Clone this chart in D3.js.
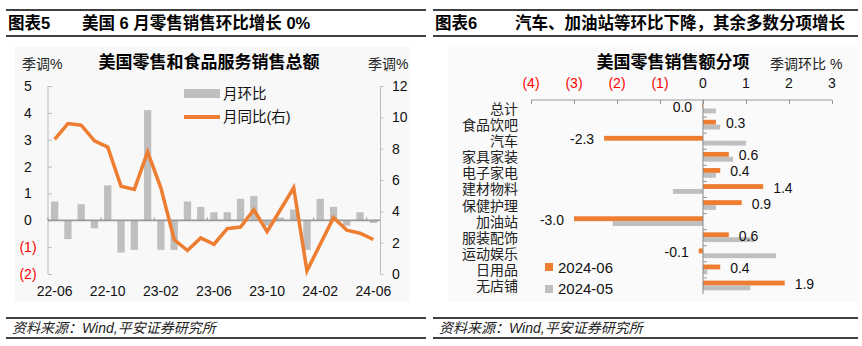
<!DOCTYPE html>
<html><head><meta charset="utf-8">
<script src="https://cdn.jsdelivr.net/npm/d3@7"></script>
<style>
body{margin:0;background:#fff;}
svg{display:block;font-family:"Liberation Sans","Noto Sans CJK SC",sans-serif;}
</style>
</head><body>
<svg id="c" width="862" height="346"></svg>
<script>
// ---------- Left chart data ----------
const months = ["22-06","22-07","22-08","22-09","22-10","22-11","22-12","23-01","23-02","23-03","23-04","23-05","23-06","23-07","23-08","23-09","23-10","23-11","23-12","24-01","24-02","24-03","24-04","24-05","24-06"];
const momValues = [0.7,-0.7,0.6,-0.3,1.3,-1.2,-1.1,4.1,-1.1,-1.1,0.7,0.5,0.3,0.3,0.8,0.9,-0.2,0.1,0.4,-1.1,0.8,0.5,-0.2,0.3,-0.1];
const yoyValues = [8.6,9.6,9.5,8.5,8.1,5.6,5.4,7.8,5.5,2.2,1.5,2.3,1.9,2.9,3.0,4.1,2.7,4.1,5.5,0.2,1.9,3.6,2.8,2.6,2.2];
const leftTicks = [-2,-1,0,1,2,3,4,5];
const rightTicks = [0,2,4,6,8,10,12];
const xLabelMonths = ["22-06","22-10","23-02","23-06","23-10","24-02","24-06"];

// ---------- Right chart data ----------
const categories = ["总计","食品饮吧","汽车","家具家装","电子家电","建材物料","保健护理","加油站","服装配饰","运动娱乐","日用品","无店铺"];
const jun2024 = [-0.02,0.3,-2.3,0.6,0.4,1.4,0.9,-3.0,0.6,-0.1,0.4,1.9];
const may2024 = [0.3,0.4,1.0,0.7,0.3,-0.7,0.3,-2.1,1.2,1.7,0.1,1.1];
const seriesNames = ["2024-06","2024-05"];
const topTicks = [-4,-3,-2,-1,0,1,2,3];

const ORANGE = "#ed7d31", GRAY = "#bfbfbf", RED = "#ff0000";
const svg = d3.select("#c");
const negFmt = v => v < 0 ? "(" + Math.abs(v) + ")" : String(v);

// ---------- Headers / footers ----------
function frame(x0, x1, num, title, numX, titleX) {
  [10, 36, 318, 338].forEach(y => {
    svg.append("line").attr("x1", x0).attr("x2", x1).attr("y1", y).attr("y2", y)
      .attr("stroke", "#000").attr("stroke-width", 1.3);
  });
  svg.append("text").attr("x", numX).attr("y", 29).attr("font-size", 16.5).attr("font-weight", "bold").text(num);
  svg.append("text").attr("x", titleX).attr("y", 29).attr("font-size", 16.5).attr("font-weight", "bold").text(title);
  svg.append("text").attr("x", numX + 4).attr("y", 333).attr("font-size", 14).attr("font-style", "italic")
    .attr("fill", "#222").text("资料来源：Wind,平安证券研究所");
}
frame(6, 426, "图表5", "美国 6 月零售销售环比增长 0%", 8, 82);
frame(433, 858, "图表6", "汽车、加油站等环比下降，其余多数分项增长", 435, 515);

// panels
svg.append("rect").attr("x", 15).attr("y", 47).attr("width", 395).attr("height", 255).attr("fill", "#f8f8f8");
svg.append("rect").attr("x", 448).attr("y", 47).attr("width", 410).attr("height", 255).attr("fill", "#fafafa");

// ---------- Left chart ----------
const L = svg.append("g");
const x = d3.scaleBand().domain(months).range([48, 380]).paddingInner(0.45).paddingOuter(0.225);
const yL = d3.scaleLinear().domain([-2, 5]).range([274, 86]);
const yR = d3.scaleLinear().domain([0, 12]).range([274, 86]);

L.append("text").attr("x", 209).attr("y", 68).attr("text-anchor", "middle").attr("font-size", 17)
  .attr("font-weight", "bold").text("美国零售和食品服务销售总额");
L.append("text").attr("x", 22).attr("y", 69).attr("font-size", 14).attr("fill", "#222").text("季调%");
L.append("text").attr("x", 368).attr("y", 69).attr("font-size", 14).attr("fill", "#222").text("季调%");

// left axis
const axL = L.append("g").attr("transform", "translate(48,0)")
  .call(d3.axisRight(yL).tickValues(leftTicks).tickSize(4).tickFormat(""));
axL.select(".domain").attr("stroke", "#bbb").attr("d", "M0,86V274");
axL.selectAll(".tick line").attr("stroke", "#bbb");
L.selectAll(".ylab").data(leftTicks).join("text").attr("class", "ylab")
  .attr("x", 28).attr("y", d => yL(d) + 5).attr("text-anchor", "middle").attr("font-size", 14)
  .attr("fill", d => d < 0 ? RED : "#111").text(negFmt);

// right axis
const axR = L.append("g").attr("transform", "translate(380.5,0)")
  .call(d3.axisRight(yR).tickValues(rightTicks).tickSize(3).tickFormat(""));
axR.select(".domain").attr("stroke", "#bbb").attr("d", "M0,86V274");
axR.selectAll(".tick line").attr("stroke", "#bbb");
L.selectAll(".rlab").data(rightTicks).join("text").attr("class", "rlab")
  .attr("x", 392).attr("y", d => yR(d) + 5).attr("font-size", 14).attr("fill", "#111").text(d => d);

// bars
L.selectAll(".bar").data(momValues).join("rect").attr("class", "bar")
  .attr("x", (d, i) => x(months[i])).attr("width", x.bandwidth())
  .attr("y", d => yL(Math.max(0, d))).attr("height", d => Math.abs(yL(d) - yL(0)))
  .attr("fill", GRAY);

// zero line
L.append("line").attr("x1", 48).attr("x2", 380).attr("y1", yL(0)).attr("y2", yL(0))
  .attr("stroke", "#999").attr("stroke-width", 1.8);
// small boundary ticks
const step = x.step();
L.selectAll(".xt").data(xLabelMonths).join("line").attr("class", "xt")
  .attr("x1", d => x(d) - x.paddingInner() * step / 2).attr("x2", d => x(d) - x.paddingInner() * step / 2)
  .attr("y1", yL(0)).attr("y2", yL(0) - 3).attr("stroke", "#999");
L.selectAll(".xlab").data(xLabelMonths).join("text").attr("class", "xlab")
  .attr("x", d => x(d) + x.bandwidth() / 2).attr("y", 296).attr("text-anchor", "middle")
  .attr("font-size", 14).attr("fill", "#111").text(d => d);

// line
const line = d3.line().x((d, i) => x(months[i]) + x.bandwidth() / 2).y(d => yR(d));
L.append("path").datum(yoyValues).attr("d", line).attr("fill", "none")
  .attr("stroke", ORANGE).attr("stroke-width", 3.5).attr("stroke-linejoin", "miter");

// legend
L.append("rect").attr("x", 184).attr("y", 89).attr("width", 36).attr("height", 9).attr("fill", GRAY);
L.append("text").attr("x", 223).attr("y", 99).attr("font-size", 14.5).attr("fill", "#111").text("月环比");
L.append("line").attr("x1", 184).attr("x2", 220).attr("y1", 117).attr("y2", 117).attr("stroke", ORANGE).attr("stroke-width", 4);
L.append("text").attr("x", 223).attr("y", 122).attr("font-size", 14.5).attr("fill", "#111").text("月同比(右)");

// ---------- Right chart ----------
const R = svg.append("g");
const xh = d3.scaleLinear().domain([-4, 3]).range([531, 832]);
const y0 = d3.scaleBand().domain(categories).range([101, 294]);
const y1 = d3.scaleBand().domain(seriesNames).range([2.7, 12.4]);

R.append("text").attr("x", 673).attr("y", 68).attr("text-anchor", "middle").attr("font-size", 17)
  .attr("font-weight", "bold").text("美国零售销售额分项");
R.append("text").attr("x", 770).attr("y", 69).attr("font-size", 14).attr("fill", "#222").text("季调环比 %");

const axT = R.append("g").attr("transform", "translate(0,100)")
  .call(d3.axisBottom(xh).tickValues(topTicks).tickSize(4).tickFormat(""));
axT.select(".domain").attr("stroke", "#999").attr("d", "M531,0H832");
axT.selectAll(".tick line").attr("stroke", "#999");
R.selectAll(".tlab").data(topTicks).join("text").attr("class", "tlab")
  .attr("x", d => xh(d)).attr("y", 88).attr("text-anchor", "middle").attr("font-size", 14)
  .attr("fill", d => d < 0 ? RED : "#111").text(negFmt);

// bars
const rows = categories.map((c, i) => ({c, jun: jun2024[i], may: may2024[i]}));
R.selectAll(".bj").data(rows).join("rect").attr("class", "bj")
  .attr("x", d => xh(Math.min(0, d.jun))).attr("width", d => Math.abs(xh(d.jun) - xh(0)))
  .attr("y", d => y0(d.c) + y1("2024-06")).attr("height", y1.bandwidth()).attr("fill", ORANGE);
R.selectAll(".bm").data(rows).join("rect").attr("class", "bm")
  .attr("x", d => xh(Math.min(0, d.may))).attr("width", d => Math.abs(xh(d.may) - xh(0)))
  .attr("y", d => y0(d.c) + y1("2024-05")).attr("height", y1.bandwidth()).attr("fill", GRAY);

// y axis at zero
const axY = R.append("g").attr("transform", `translate(${xh(0)},0)`)
  .call(d3.axisRight(y0).tickValues([]).tickSize(0));
axY.select(".domain").attr("stroke", "#888").attr("d", "M0,100V294");
R.selectAll(".yt").data(categories.slice(1)).join("line").attr("class", "yt")
  .attr("x1", xh(0)).attr("x2", xh(0) + 4).attr("y1", d => y0(d)).attr("y2", d => y0(d)).attr("stroke", "#999");

// category labels
R.selectAll(".clab").data(categories).join("text").attr("class", "clab")
  .attr("x", 518).attr("y", d => y0(d) + y0.bandwidth() / 2 + 5).attr("text-anchor", "end")
  .attr("font-size", 14).attr("fill", "#222").text(d => d);

// value labels
R.selectAll(".vlab").data(rows).join("text").attr("class", "vlab")
  .attr("x", d => d.jun < 0 ? xh(d.jun) - 10 : xh(d.jun) + 10)
  .attr("y", d => y0(d.c) + y1("2024-06") + y1.bandwidth() / 2 + 6)
  .attr("text-anchor", d => d.jun < 0 ? "end" : "start").attr("font-size", 14).attr("fill", "#111")
  .text(d => (Math.round(d.jun * 10) / 10).toFixed(1));

// legend
R.append("rect").attr("x", 545).attr("y", 263).attr("width", 8).attr("height", 8).attr("fill", ORANGE);
R.append("text").attr("x", 558).attr("y", 273).attr("font-size", 15).attr("fill", "#111").text("2024-06");
R.append("rect").attr("x", 545).attr("y", 285).attr("width", 8).attr("height", 8).attr("fill", GRAY);
R.append("text").attr("x", 558).attr("y", 294).attr("font-size", 15).attr("fill", "#111").text("2024-05");
</script>
</body></html>
